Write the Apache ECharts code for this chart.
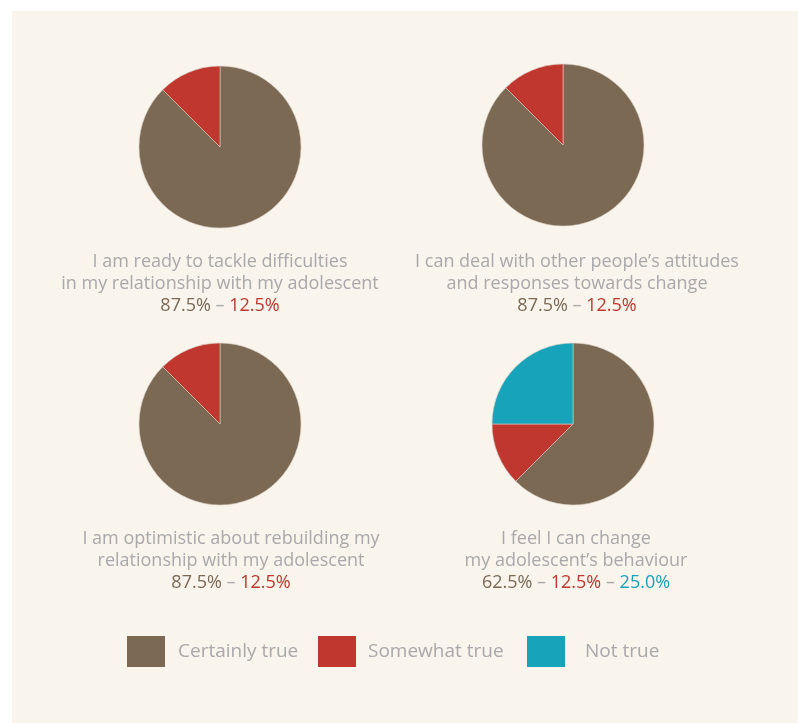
<!DOCTYPE html>
<html>
<head>
<meta charset="utf-8">
<style>
  html, body { margin: 0; padding: 0; background: #ffffff; }
  #chart { width: 798px; height: 723px; }
</style>
<script src="https://cdn.jsdelivr.net/npm/echarts@6/dist/echarts.min.js"></script>
</head>
<body>
<div id="chart"></div>
<script>
// Response categories, in drawing order (clockwise from 12 o'clock)
const categories = ['Certainly true', 'Somewhat true', 'Not true'];

// Statement captions (one entry per pie, lines separated by \n)
const captions = [
  'I am ready to tackle difficulties\nin my relationship with my adolescent',
  'I can deal with other people\u2019s attitudes\nand responses towards change',
  'I am optimistic about rebuilding my\nrelationship with my adolescent',
  'I feel I can change\nmy adolescent\u2019s behaviour'
];

// Share of answers per statement, in % (Certainly / Somewhat / Not true)
const certainlyTrue = [87.5, 87.5, 87.5, 62.5];
const somewhatTrue  = [12.5, 12.5, 12.5, 12.5];
const notTrue       = [0, 0, 0, 25.0];

const COLORS = ['#7b6954', '#c0372f', '#17a3b9'];
const GRAY = '#a9a8aa';
const FONT = '"Open Sans", Lato, sans-serif';
const FS = 18;

// Layout for each pie and its caption
const pieCenters = [[220, 147], [563, 145], [220, 424], [573, 424]];
const captionPos = [[220, 251], [577, 251], [231, 528], [576, 528]];

const fmt = v => v.toFixed(1) + '%';

function percentLine(i) {
  const parts = [`{c0|${fmt(certainlyTrue[i])}}`, `{c1|${fmt(somewhatTrue[i])}}`];
  if (notTrue[i] > 0) parts.push(`{c2|${fmt(notTrue[i])}}`);
  return parts.join('{dash| \u2013 }');
}

const rich = {
  c0: { color: COLORS[0], fontSize: FS, fontFamily: FONT, lineHeight: 22 },
  c1: { color: COLORS[1], fontSize: FS, fontFamily: FONT, lineHeight: 22 },
  c2: { color: COLORS[2], fontSize: FS, fontFamily: FONT, lineHeight: 22 },
  dash: { color: GRAY, fontSize: FS, fontFamily: FONT, lineHeight: 22 }
};

const titles = captions.map((cap, i) => ({
  text: cap + '\n' + percentLine(i),
  left: captionPos[i][0],
  top: captionPos[i][1],
  textAlign: 'center',
  padding: 0,
  textStyle: {
    color: GRAY,
    fontSize: FS,
    fontWeight: 'normal',
    fontFamily: FONT,
    lineHeight: 22,
    rich: rich
  }
}));

const series = captions.map((cap, i) => {
  const values = [certainlyTrue[i], somewhatTrue[i], notTrue[i]];
  const data = [];
  values.forEach((v, k) => {
    if (v > 0) data.push({ name: categories[k], value: v });
  });
  return {
    type: 'pie',
    center: pieCenters[i],
    radius: 81,
    startAngle: 90,
    clockwise: true,
    silent: true,
    label: { show: false },
    labelLine: { show: false },
    itemStyle: { borderColor: '#d9cfc2', borderWidth: 0.6 },
    emphasis: { disabled: true },
    data: data
  };
});

// One legend per category so each entry can be placed independently
const legendX = [127, 318, 527];
const legendTextPad = [8, 7, 15];
const legends = categories.map((name, k) => ({
  data: [name],
  left: legendX[k],
  top: 636,
  padding: 0,
  itemWidth: 38,
  itemHeight: 31,
  icon: 'rect',
  selectedMode: false,
  itemStyle: { borderWidth: 0 },
  textStyle: {
    color: GRAY,
    fontSize: 19,
    fontFamily: FONT,
    padding: [0, 0, 0, legendTextPad[k]]
  }
}));

const chart = echarts.init(document.getElementById('chart'), null, { renderer: 'canvas' });
chart.setOption({
  animation: false,
  color: COLORS,
  graphic: [{
    type: 'rect',
    z: -10,
    silent: true,
    shape: { x: 12, y: 11, width: 786, height: 712 },
    style: { fill: '#f9f4ec' }
  }],
  title: titles,
  legend: legends,
  series: series
});
</script>
</body>
</html>
